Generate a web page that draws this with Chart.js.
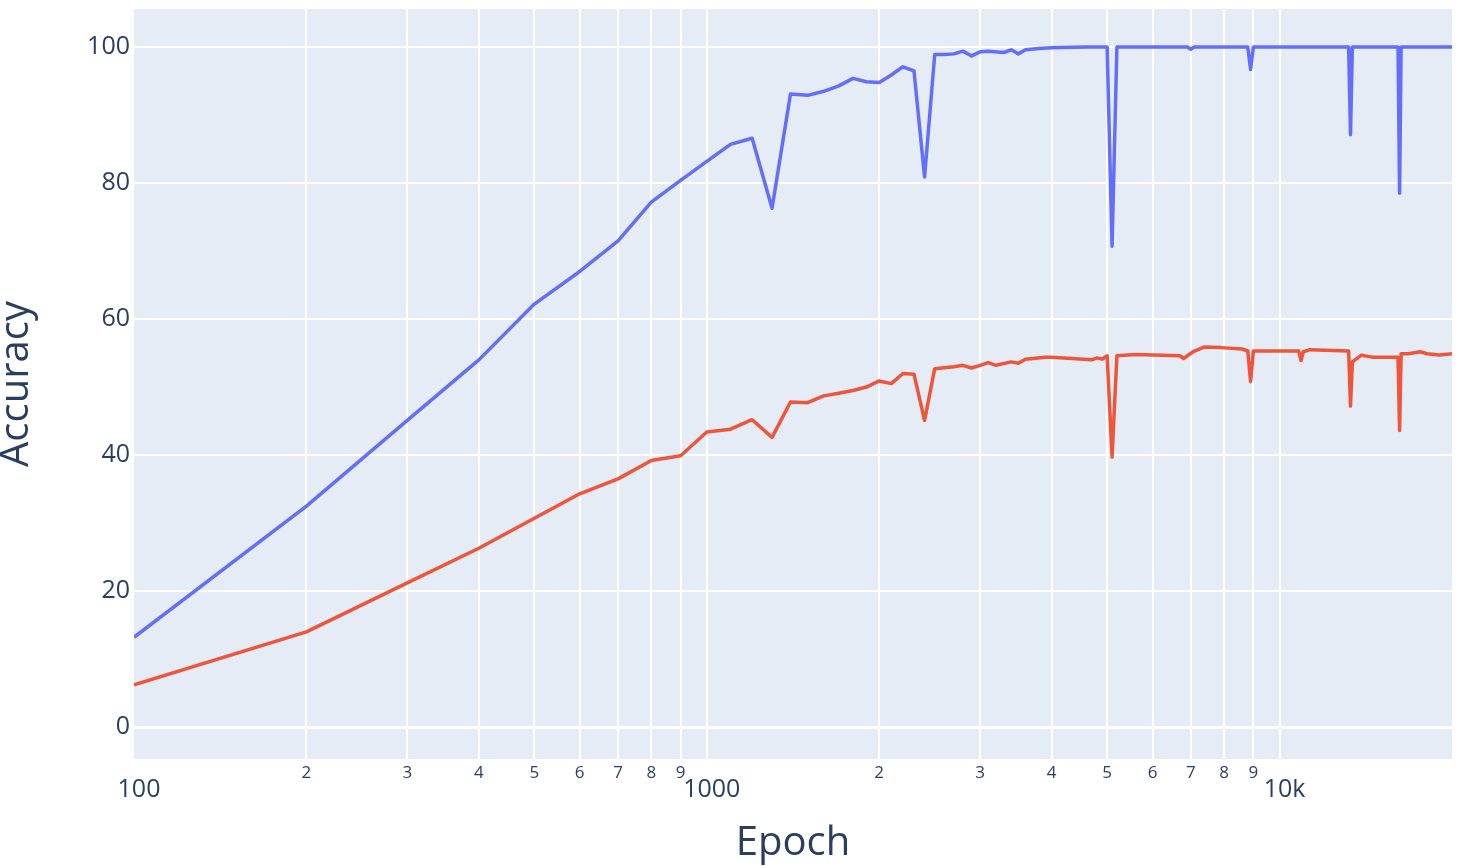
<!DOCTYPE html>
<html>
<head>
<meta charset="utf-8">
<script src="https://cdn.jsdelivr.net/npm/chart.js@4/dist/chart.umd.min.js"></script>
<style>
  html, body { margin: 0; padding: 0; background: #ffffff; }
  canvas { display: block; }
</style>
</head>
<body>
<canvas id="accChart" width="1460" height="866"></canvas>
<script>
const ctx = document.getElementById("accChart").getContext("2d");

// blue trace (train)
const blueEpochs = [
  100, 200, 300, 400, 500, 600, 700, 800, 900, 1000,
  1100, 1200, 1300, 1400, 1500, 1600, 1700, 1800, 1900, 2000,
  2100, 2200, 2300, 2400, 2500, 2600, 2700, 2800, 2900, 3000,
  3100, 3300, 3400, 3500, 3600, 3800, 4000, 4600, 5000, 5100,
  5200, 6900, 7000, 7100, 8800, 8900, 9000, 13200, 13300, 13400,
  16100, 16200, 16300, 20000,
];
const blueAcc = [
  13.2, 32.5, 45.1, 54.0, 62.2, 67.0, 71.5, 77.2, 80.4, 83.2,
  85.7, 86.6, 76.3, 93.1, 92.9, 93.5, 94.3, 95.4, 94.9, 94.8,
  95.9, 97.1, 96.5, 80.9, 98.9, 98.9, 99.0, 99.4, 98.7, 99.3,
  99.4, 99.2, 99.6, 99.0, 99.6, 99.8, 99.9, 100, 100, 70.7,
  100, 100, 99.7, 100, 100, 96.7, 100, 100, 87.1, 100,
  100, 78.5, 100, 100,
];

// red trace (test)
const redEpochs = [
  100, 200, 300, 400, 500, 600, 700, 800, 900, 1000,
  1100, 1200, 1300, 1400, 1500, 1600, 1700, 1800, 1900, 2000,
  2100, 2200, 2300, 2400, 2500, 2700, 2800, 2900, 3000, 3100,
  3200, 3400, 3500, 3600, 3900, 4000, 4700, 4800, 4900, 5000,
  5100, 5200, 5600, 6700, 6800, 6900, 7100, 7400, 7900, 8600,
  8800, 8900, 9000, 10800, 10900, 11000, 11300, 13200, 13300, 13400,
  13900, 14500, 16100, 16200, 16300, 16800, 17600, 18100, 19000, 20000,
];
const redAcc = [
  6.2, 14.0, 21.2, 26.3, 30.7, 34.3, 36.5, 39.2, 39.9, 43.4,
  43.8, 45.2, 42.6, 47.8, 47.7, 48.7, 49.1, 49.5, 50.0, 50.9,
  50.5, 52.0, 51.9, 45.1, 52.7, 53.0, 53.2, 52.8, 53.2, 53.6,
  53.2, 53.7, 53.5, 54.1, 54.4, 54.4, 54.0, 54.3, 54.1, 54.6,
  39.7, 54.6, 54.8, 54.6, 54.2, 54.6, 55.3, 55.9, 55.8, 55.6,
  55.3, 50.8, 55.3, 55.3, 53.9, 55.2, 55.5, 55.3, 47.2, 53.7,
  54.7, 54.4, 54.4, 43.6, 54.9, 54.9, 55.2, 54.9, 54.7, 54.9,
];

// axes
const xMin = 100;
const xMax = 20000;
const yMin = -4.7;
const yMax = 105.6;
const yTicks = [0, 20, 40, 60, 80, 100];
const xMajorTicks = [100, 1000, 10000];
const xMajorLabels = ["100", "1000", "10k"];
const xMinorTicks = [
  200, 300, 400, 500, 600, 700, 800, 900,
  2000, 3000, 4000, 5000, 6000, 7000, 8000, 9000,
];
const xMinorLabels = [
  "2", "3", "4", "5", "6", "7", "8", "9",
  "2", "3", "4", "5", "6", "7", "8", "9",
];

const TEXT = "#2a3f5f";
const FONT = "'Open Sans', 'Noto Sans', sans-serif";

const toPoints = (xs, ys) => xs.map((x, i) => ({ x: x, y: ys[i] }));

const plotBg = {
  id: "plotBg",
  beforeDraw(chart) {
    const a = chart.chartArea;
    const c = chart.ctx;
    c.save();
    c.fillStyle = "#E5ECF6";
    c.fillRect(a.left, a.top, a.right - a.left, a.bottom - a.top);
    c.restore();
  },
};

const gridTicks = xMajorTicks.concat(xMinorTicks).sort((a, b) => a - b);

// keep the plot box where the reference has it
const noSidePad = (scale) => {
  scale.paddingLeft = 0;
  scale.paddingRight = 0;
};

const config = {
  type: "line",
  data: {
    datasets: [
      {
        label: "train",
        data: toPoints(blueEpochs, blueAcc),
        borderColor: "#636EFA",
        backgroundColor: "#636EFA",
        borderWidth: 3.5,
        pointRadius: 0,
        fill: false,
        tension: 0,
        borderJoinStyle: "round",
      },
      {
        label: "test",
        data: toPoints(redEpochs, redAcc),
        borderColor: "#EF553B",
        backgroundColor: "#EF553B",
        borderWidth: 3.5,
        pointRadius: 0,
        fill: false,
        tension: 0,
        borderJoinStyle: "round",
      },
    ],
  },
  options: {
    responsive: false,
    devicePixelRatio: 1,
    animation: false,
    layout: { padding: { left: 0, right: 8, top: 9, bottom: 0 } },
    plugins: {
      legend: { display: false },
      tooltip: { enabled: false },
    },
    scales: {
      x: {
        type: "logarithmic",
        position: "bottom",
        weight: 0,
        min: xMin,
        max: xMax,
        afterBuildTicks: (scale) => {
          scale.ticks = gridTicks.map((v) => ({ value: v }));
        },
        afterFit: (scale) => {
          scale.height = 20;
          noSidePad(scale);
        },
        grid: {
          color: (c) => (c.tick && c.tick.value === xMin ? "rgba(0,0,0,0)" : "#ffffff"),
          lineWidth: 2,
          drawTicks: false,
        },
        border: { display: false },
        ticks: {
          autoSkip: false,
          maxRotation: 0,
          minRotation: 0,
          padding: 4,
          color: TEXT,
          font: { family: FONT, size: 17 },
          callback: (value) => {
            const i = xMinorTicks.indexOf(value);
            return i >= 0 ? xMinorLabels[i] : "";
          },
        },
      },
      x2: {
        type: "logarithmic",
        position: "bottom",
        weight: 1,
        min: xMin,
        max: xMax,
        afterBuildTicks: (scale) => {
          scale.ticks = xMajorTicks.map((v) => ({ value: v }));
        },
        afterFit: (scale) => {
          scale.height = 87;
          noSidePad(scale);
        },
        grid: { display: false, drawTicks: false },
        border: { display: false },
        ticks: {
          autoSkip: false,
          maxRotation: 0,
          minRotation: 0,
          padding: -4,
          labelOffset: 5,
          color: TEXT,
          font: { family: FONT, size: 25 },
          callback: (value) => {
            const i = xMajorTicks.indexOf(value);
            return i >= 0 ? xMajorLabels[i] : "";
          },
        },
        title: {
          display: true,
          text: "Epoch",
          color: TEXT,
          font: { family: FONT, size: 40, lineHeight: 1.1 },
          padding: { top: 0, bottom: 0 },
        },
      },
      y: {
        min: yMin,
        max: yMax,
        afterBuildTicks: (scale) => {
          scale.ticks = yTicks.map((v) => ({ value: v }));
        },
        afterFit: (scale) => {
          scale.width = 134;
          scale.paddingTop = 0;
          scale.paddingBottom = 0;
        },
        grid: {
          color: "#ffffff",
          lineWidth: (c) => (c.tick && c.tick.value === 0 ? 3 : 2),
          drawTicks: false,
        },
        border: { display: false },
        ticks: {
          padding: 4,
          color: TEXT,
          font: { family: FONT, size: 25 },
        },
        title: {
          display: true,
          text: "Accuracy",
          color: TEXT,
          font: { family: FONT, size: 40, lineHeight: 0.85 },
          padding: 0,
        },
      },
    },
  },
  plugins: [plotBg],
};

const accChart = new Chart(ctx, config);
</script>
</body>
</html>
